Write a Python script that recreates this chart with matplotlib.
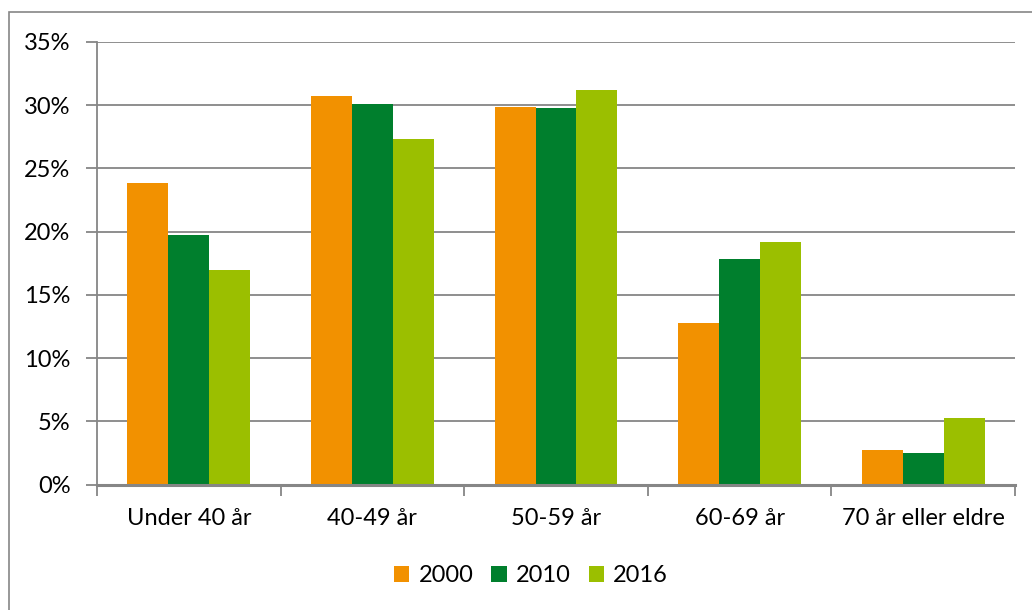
import numpy as np
import matplotlib.pyplot as plt
from matplotlib.patches import Rectangle
from matplotlib.ticker import FixedLocator, PercentFormatter

plt.rcParams['font.family'] = ['Lato', 'DejaVu Sans']

# Andel i hver aldersgruppe (%)
categories = ['Under 40 år', '40-49 år', '50-59 år', '60-69 år', '70 år eller eldre']
years = ['2000', '2010', '2016']
share_2000 = [23.85, 30.74, 29.87, 12.78, 2.71]
share_2010 = [19.74, 30.08, 29.79, 17.82, 2.49]
share_2016 = [16.97, 27.36, 31.24, 19.16, 5.26]
colors = ['#F29100', '#007F2D', '#9BBF00']

fig = plt.figure(figsize=(10.32, 6.10), dpi=100)
ax = fig.add_axes([97 / 1032, 1 - 484.5 / 610, (1015 - 97) / 1032, (484.5 - 42) / 610])

# outer chart border
fig.patches.append(Rectangle((9 / 1032, -0.1), 1.2, (610 - 12) / 610 + 0.1,
                             transform=fig.transFigure, fill=False,
                             edgecolor='#868686', linewidth=1.2))

x = np.arange(len(categories))
w = 0.223
for i, (vals, yr) in enumerate(zip([share_2000, share_2010, share_2016], years)):
    ax.bar(x + (i - 1) * w, vals, width=w, color=colors[i], label=yr, zorder=3)

ax.set_xlim(-0.5, len(categories) - 0.5)
ax.set_ylim(0, 35)
ax.set_yticks(np.arange(0, 36, 5))
ax.yaxis.set_major_formatter(PercentFormatter(decimals=0))
ax.grid(axis='y', color='#868686', linewidth=1.3, zorder=0)

ax.set_xticks(x)
ax.set_xticklabels(categories)
ax.xaxis.set_minor_locator(FixedLocator(np.arange(-0.5, len(categories), 1)))
ax.tick_params(axis='x', which='major', length=0, pad=17, labelsize=17)
ax.tick_params(axis='x', which='minor', length=8, width=1.3, color='#868686')
ax.tick_params(axis='y', length=8, width=1.3, color='#868686', pad=11, labelsize=17)

for s in ['top', 'right']:
    ax.spines[s].set_visible(False)
ax.spines['left'].set_color('#868686')
ax.spines['left'].set_linewidth(1.3)
ax.spines['bottom'].set_color('#868686')
ax.spines['bottom'].set_linewidth(2.2)
ax.spines['bottom'].set_zorder(4)

ax.legend(loc='center', bbox_to_anchor=(531 / 1032, 1 - 576 / 610),
          bbox_transform=fig.transFigure, ncol=3, frameon=False,
          fontsize=17, handlelength=0.65, handleheight=0.65,
          handletextpad=0.4, columnspacing=0.75)

plt.savefig('out.png', dpi=100)
